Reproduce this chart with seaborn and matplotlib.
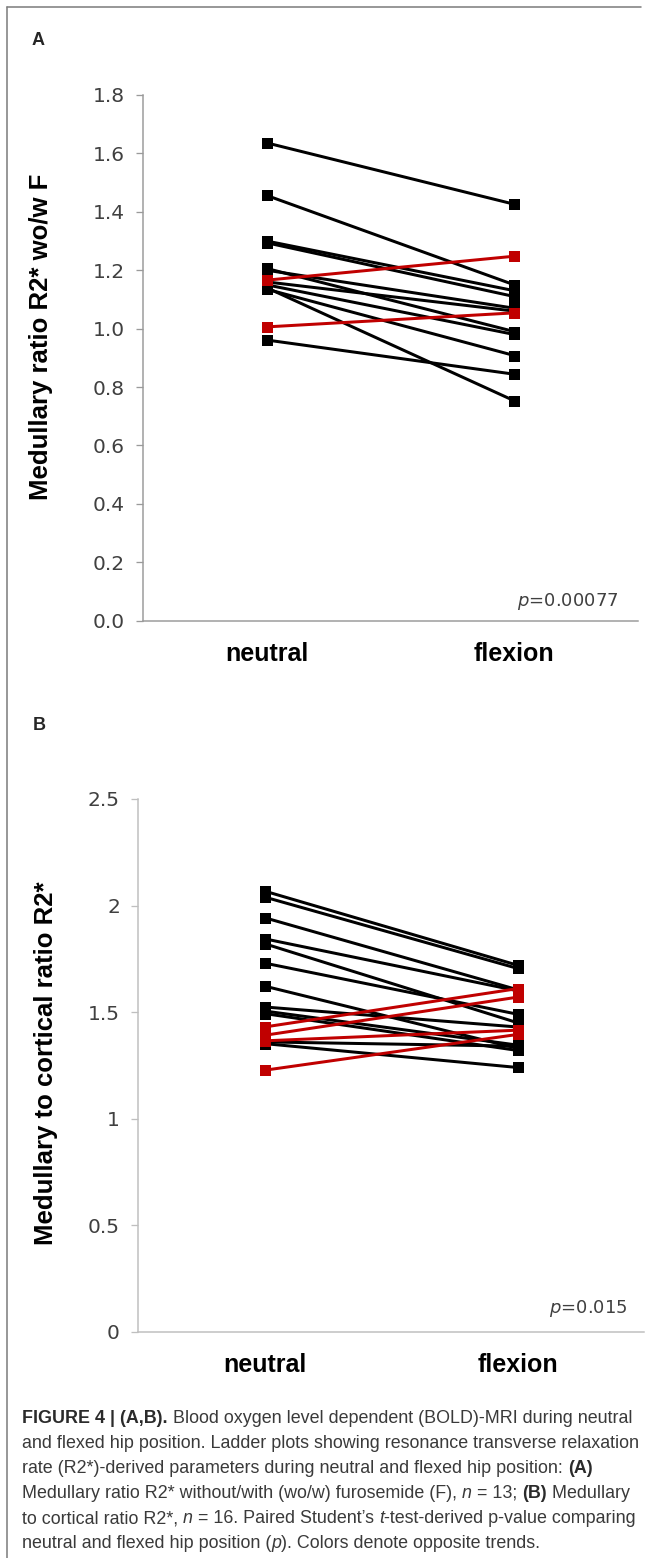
import numpy as np
import pandas as pd
import matplotlib
matplotlib.use("Agg")
import matplotlib.pyplot as plt
import seaborn as sns
from matplotlib.lines import Line2D
from matplotlib.font_manager import FontProperties, findfont

# ---------------- data ----------------
positions = ["neutral", "flexion"]

# Panel A: Medullary ratio R2* wo/w F (n = 13)
a_neutral_down = [1.636, 1.456, 1.300, 1.294, 1.206, 1.200, 1.160, 1.150, 1.140, 1.135, 0.961]
a_flexion_down = [1.426, 1.150, 1.130, 1.110, 0.990, 1.070, 1.060, 0.980, 0.753, 0.908, 0.844]
a_neutral_up = [1.166, 1.006]
a_flexion_up = [1.248, 1.054]

# Panel B: Medullary to cortical ratio R2* (n = 16)
b_neutral_down = [2.068, 2.040, 1.943, 1.844, 1.821, 1.730, 1.622, 1.524, 1.505, 1.493, 1.360, 1.352]
b_flexion_down = [1.720, 1.705, 1.605, 1.600, 1.450, 1.490, 1.330, 1.430, 1.345, 1.320, 1.340, 1.240]
b_neutral_up = [1.430, 1.391, 1.365, 1.227]
b_flexion_up = [1.610, 1.570, 1.415, 1.395]

a_ticks = [0.0, 0.2, 0.4, 0.6, 0.8, 1.0, 1.2, 1.4, 1.6, 1.8]
a_ticklabels = ["0.0", "0.2", "0.4", "0.6", "0.8", "1.0", "1.2", "1.4", "1.6", "1.8"]
b_ticks = [0.0, 0.5, 1.0, 1.5, 2.0, 2.5]
b_ticklabels = ["0", "0.5", "1", "1.5", "2", "2.5"]

a_ylabel = "Medullary ratio R2* wo/w F"
b_ylabel = "Medullary to cortical ratio R2*"
a_pvalue = "$p$=0.00077"
b_pvalue = "$p$=0.015"

caption_lines = [
    [("FIGURE 4 | (A,B).", "bold", "normal"),
     (" Blood oxygen level dependent (BOLD)-MRI during neutral", "normal", "normal")],
    [("and flexed hip position. Ladder plots showing resonance transverse relaxation", "normal", "normal")],
    [("rate (R2*)-derived parameters during neutral and flexed hip position: ", "normal", "normal"),
     ("(A)", "bold", "normal")],
    [("Medullary ratio R2* without/with (wo/w) furosemide (F), ", "normal", "normal"),
     ("n", "normal", "italic"), (" = 13; ", "normal", "normal"),
     ("(B)", "bold", "normal"), (" Medullary", "normal", "normal")],
    [("to cortical ratio R2*, ", "normal", "normal"), ("n", "normal", "italic"),
     (" = 16. Paired Student\u2019s ", "normal", "normal"), ("t", "normal", "italic"),
     ("-test-derived p-value comparing", "normal", "normal")],
    [("neutral and flexed hip position (", "normal", "normal"), ("p", "normal", "italic"),
     ("). Colors denote opposite trends.", "normal", "normal")],
]


def make_df(n_down, f_down, n_up, f_up):
    rows = []
    sid = 0
    for nv, fv in zip(n_down, f_down):
        rows.append((sid, 0, nv, "down"))
        rows.append((sid, 1, fv, "down"))
        sid += 1
    for nv, fv in zip(n_up, f_up):
        rows.append((sid, 0, nv, "up"))
        rows.append((sid, 1, fv, "up"))
        sid += 1
    return pd.DataFrame(rows, columns=["subject", "pos", "value", "trend"])


df_a = make_df(a_neutral_down, a_flexion_down, a_neutral_up, a_flexion_up)
df_b = make_df(b_neutral_down, b_flexion_down, b_neutral_up, b_flexion_up)

# ---------------- style ----------------
sns.set_style("white")
plt.rcParams["font.family"] = ["DejaVu Sans"]
plt.rcParams["mathtext.fontset"] = "dejavusans"

# caption font: a narrow face if installed, otherwise Liberation Sans
cap_family = "Liberation Sans"
try:
    f = findfont(FontProperties(family="Liberation Sans Narrow"), fallback_to_default=False)
    if "Narrow" in f:
        cap_family = "Liberation Sans Narrow"
except Exception:
    pass

W, H = 652, 1558
fig = plt.figure(figsize=(W / 100, H / 100), dpi=100)

palette = {"down": "#000000", "up": "#C00000"}
px = 72 / 100.0  # points per pixel


def setup_panel(ax, df, ticks, ticklabels, ymax, ylabel, label_xy, pval, pval_xy, spine_col):
    sns.lineplot(data=df, x="pos", y="value", units="subject", estimator=None,
                 hue="trend", hue_order=["down", "up"], palette=palette,
                 marker="s", markersize=11 * px, markeredgewidth=0,
                 linewidth=3.0 * px, legend=False, ax=ax, sort=False)
    ax.set_xlim(-0.5, 1.5)
    ax.set_ylim(0, ymax)
    ax.set_xticks([0, 1])
    ax.set_xticklabels(positions, fontsize=18, fontweight="bold",
                       family="Liberation Sans", color="#000000")
    ax.set_yticks(ticks)
    ax.set_yticklabels(ticklabels, fontsize=14.5, color="#404040", family="DejaVu Sans")
    ax.tick_params(axis="x", length=0, pad=15)
    ax.tick_params(axis="y", length=7 * px, width=1.3 * px, color=spine_col,
                   direction="out", pad=8, left=True)
    ax.set_xlabel("")
    ax.set_ylabel(ylabel, fontsize=18.5, fontweight="bold", family="Liberation Sans",
                  color="#000000")
    ax.yaxis.set_label_coords(*label_xy)
    for s in ["top", "right"]:
        ax.spines[s].set_visible(False)
    for s in ["left", "bottom"]:
        ax.spines[s].set_color(spine_col)
        ax.spines[s].set_linewidth(1.5 * px)
    ax.grid(False)
    ax.text(pval_xy[0], pval_xy[1], pval, transform=ax.transAxes, ha="right",
            va="baseline", fontsize=13, color="#404040", family="DejaVu Sans")


# Panel A axes
axA = fig.add_axes([143 / W, (H - 620.7) / H, (638 - 143) / W, (620.7 - 95) / H])
setup_panel(axA, df_a, a_ticks, a_ticklabels, 1.8, a_ylabel,
            ((53 - 143) / 495, (620.7 - 336.5) / 525.7),
            a_pvalue, ((618 - 143) / 495, (620.7 - 606) / 525.7), "#9a9a9a")

# Panel B axes
axB = fig.add_axes([138 / W, (H - 1331.7) / H, (644 - 138) / W, (1331.7 - 799) / H])
setup_panel(axB, df_b, b_ticks, b_ticklabels, 2.5, b_ylabel,
            ((58 - 138) / 506, (1331.7 - 1063) / 532.7),
            b_pvalue, ((628 - 138) / 506, (1331.7 - 1313) / 532.7), "#bfbfbf")

# panel letters
fig.text(32 / W, 1 - 45 / H, "A", fontsize=13, fontweight="bold",
         family="Liberation Sans", ha="left", va="baseline")
fig.text(33 / W, 1 - 730 / H, "B", fontsize=13, fontweight="bold",
         family="Liberation Sans", ha="left", va="baseline")

# frame lines (left and top)
fig.add_artist(Line2D([7 / W, 7 / W], [0, 1 - 7 / H], transform=fig.transFigure,
                      color="#808080", linewidth=1.6 * px))
fig.add_artist(Line2D([7 / W, 641 / W], [1 - 7 / H, 1 - 7 / H], transform=fig.transFigure,
                      color="#808080", linewidth=1.6 * px))

# ---------------- caption ----------------
renderer = fig.canvas.get_renderer()


def seg_width(txt, size, weight, style):
    prop = FontProperties(family=cap_family, size=size, weight=weight, style=style)
    w1, _, _ = renderer.get_text_width_height_descent("x" + txt + "x", prop, ismath=False)
    w2, _, _ = renderer.get_text_width_height_descent("xx", prop, ismath=False)
    return w1 - w2


def line_width(segs, size):
    return sum(seg_width(t, size, w, s) for t, w, s in segs)


# fit font size so the full-width second line spans the caption width
base = 10.0
target = 640 - 22
cap_size = base * target / line_width(caption_lines[1], base)

y0 = 1423
for i, segs in enumerate(caption_lines):
    x = 22.0
    yb = y0 + 25 * i
    for txt, weight, style in segs:
        col = "#2b2b2b" if weight == "bold" else "#3a3a3a"
        fig.text(x / W, 1 - yb / H, txt, fontsize=cap_size, fontweight=weight,
                 fontstyle=style, family=cap_family, color=col,
                 ha="left", va="baseline")
        x += seg_width(txt, cap_size, weight, style)

fig.savefig("out.png", dpi=100)
